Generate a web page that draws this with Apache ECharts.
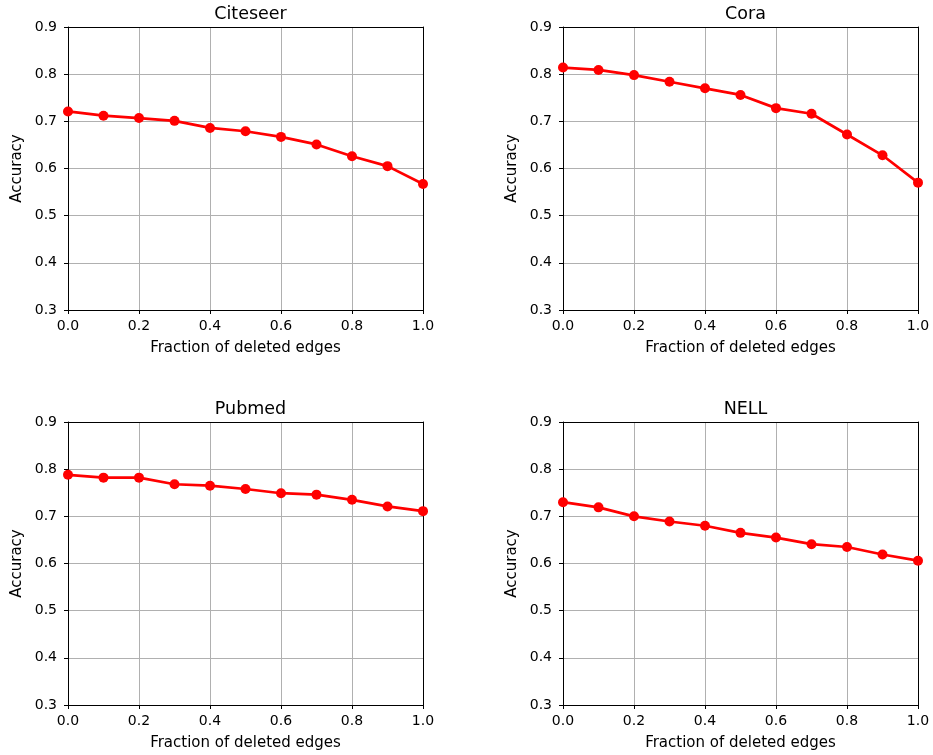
<!DOCTYPE html>
<html>
<head>
<meta charset="utf-8">
<script src="https://cdn.jsdelivr.net/npm/echarts@6/dist/echarts.min.js"></script>
<style>
  html, body { margin: 0; padding: 0; background: #fff; }
  #main { width: 933px; height: 755px; }
</style>
</head>
<body>
<div id="main"></div>
<script>
const fractions = [0.0, 0.1, 0.2, 0.3, 0.4, 0.5, 0.6, 0.7, 0.8, 0.9, 1.0];
const titles = ["Citeseer", "Cora", "Pubmed", "NELL"];
const citeseer = [0.721, 0.712, 0.707, 0.701, 0.686, 0.679, 0.667, 0.651, 0.626, 0.605, 0.567];
const cora = [0.814, 0.809, 0.798, 0.784, 0.770, 0.756, 0.728, 0.716, 0.672, 0.628, 0.570];
const pubmed = [0.788, 0.782, 0.782, 0.768, 0.765, 0.758, 0.749, 0.746, 0.735, 0.721, 0.711];
const nell = [0.730, 0.719, 0.700, 0.689, 0.680, 0.665, 0.655, 0.641, 0.635, 0.619, 0.606];
const allSeries = [citeseer, cora, pubmed, nell];

const font = "DejaVu Sans";
const chart = echarts.init(document.getElementById("main"));

const lefts = [68, 563, 68, 563];
const tops = [27, 27, 422, 422];
const plotW = 355, plotH = 283;

// spine-only axis (top / right edges of each panel)
const spine = (gridIndex, position, min, max) => ({
  type: "value", gridIndex, position, min, max,
  axisLine: { show: true, onZero: false, lineStyle: { color: "#000" } },
  axisTick: { show: false }, axisLabel: { show: false }, splitLine: { show: false }
});

const grids = [], xAxes = [], yAxes = [], series = [], titleOpts = [];
allSeries.forEach((vals, i) => {
  grids.push({ left: lefts[i], top: tops[i], width: plotW, height: plotH });
  titleOpts.push({
    text: titles[i], left: lefts[i] + plotW / 2, top: tops[i] - 27, textAlign: "center",
    textStyle: { fontFamily: font, fontSize: 17.5, fontWeight: "normal", color: "#000" }
  });
  xAxes.push({
    type: "value", gridIndex: i, position: "bottom", min: 0, max: 1, interval: 0.2,
    name: "Fraction of deleted edges", nameLocation: "middle", nameGap: 31,
    nameTextStyle: { fontFamily: font, fontSize: 15, color: "#000" },
    axisLine: { show: true, onZero: false, lineStyle: { color: "#000" } },
    axisTick: { show: true, inside: false, length: 4, lineStyle: { color: "#000" } },
    axisLabel: { fontFamily: font, fontSize: 14, color: "#000", margin: 9, formatter: v => v.toFixed(1) },
    splitLine: { show: true, lineStyle: { color: "#b0b0b0", width: 1 } }
  });
  yAxes.push({
    type: "value", gridIndex: i, position: "left", min: 0.3, max: 0.9, interval: 0.1,
    name: "Accuracy", nameLocation: "middle", nameGap: 43,
    nameTextStyle: { fontFamily: font, fontSize: 15, color: "#000" },
    axisLine: { show: true, onZero: false, lineStyle: { color: "#000" } },
    axisTick: { show: true, inside: false, length: 4, lineStyle: { color: "#000" } },
    axisLabel: { fontFamily: font, fontSize: 14, color: "#000", margin: 11, formatter: v => v.toFixed(1) },
    splitLine: { show: true, lineStyle: { color: "#b0b0b0", width: 1 } }
  });
  series.push({
    type: "line", xAxisIndex: i, yAxisIndex: i,
    data: fractions.map((f, k) => [f, vals[k]]),
    symbol: "circle", symbolSize: 10,
    lineStyle: { color: "#ff0000", width: 2.7 },
    itemStyle: { color: "#ff0000" },
    clip: true, animation: false, z: 5
  });
});
allSeries.forEach((vals, i) => {
  xAxes.push(spine(i, "top", 0, 1));
  yAxes.push(spine(i, "right", 0.3, 0.9));
});

chart.setOption({
  animation: false,
  title: titleOpts,
  grid: grids,
  xAxis: xAxes,
  yAxis: yAxes,
  series: series
});
</script>
</body>
</html>
